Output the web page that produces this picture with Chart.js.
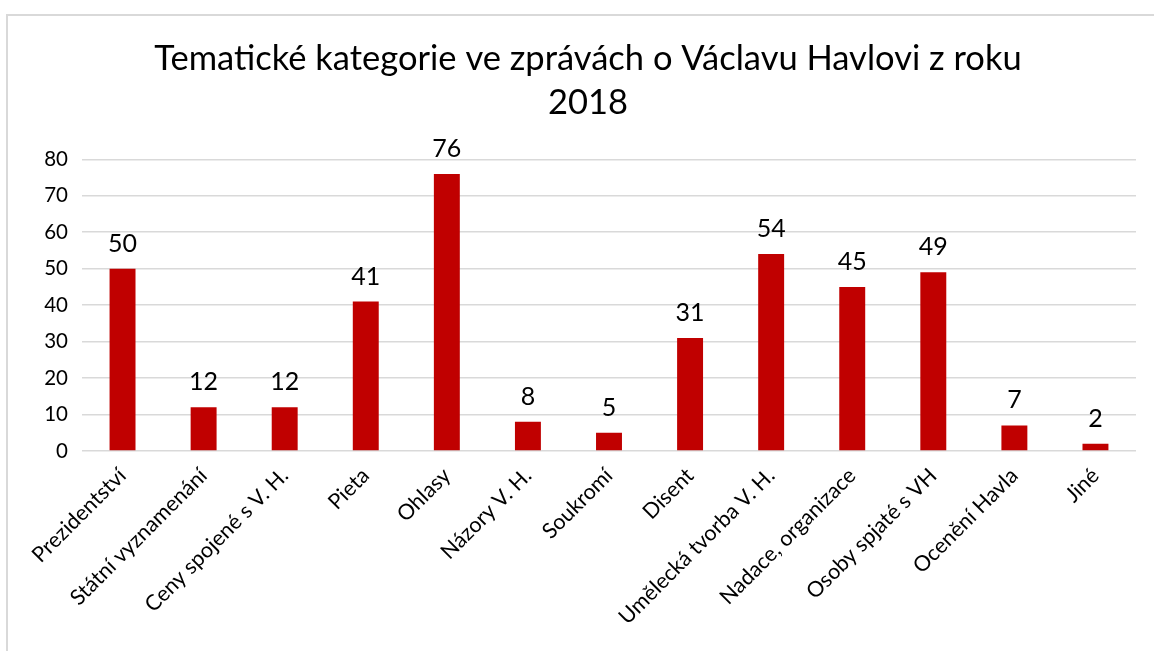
<!DOCTYPE html>
<html>
<head>
<meta charset="utf-8">
<script src="https://cdn.jsdelivr.net/npm/chart.js@4.4.1/dist/chart.umd.min.js"></script>
<style>
  html, body { margin: 0; padding: 0; background: #fff; overflow: hidden; width: 1154px; height: 651px; }
  #frame { position: absolute; left: 6px; top: 14px; width: 1164px; height: 660px; border: 2px solid #d9d9d9; }
  #chart { position: absolute; left: 8px; top: 16px; }
</style>
</head>
<body>
<div id="frame"></div>
<canvas id="chart" width="1160" height="635"></canvas>
<script>
const categories = ["Prezidentství", "Státní vyznamenání", "Ceny spojené s V. H.", "Pieta", "Ohlasy",
  "Názory V. H.", "Soukromí", "Disent", "Umělecká tvorba V. H.", "Nadace, organizace",
  "Osoby spjaté s VH", "Ocenění Havla", "Jiné"];
const counts = [50, 12, 12, 41, 76, 8, 5, 31, 54, 45, 49, 7, 2];
const titleLines = ["Tematické kategorie ve zprávách o Václavu Havlovi z roku", "2018"];

const FONT = "Lato, 'Open Sans', sans-serif";

const valueLabels = {
  id: "valueLabels",
  afterDatasetsDraw(chart) {
    const ctx = chart.ctx;
    const meta = chart.getDatasetMeta(0);
    ctx.save();
    ctx.font = "25px " + FONT;
    ctx.fillStyle = "#000";
    ctx.textAlign = "center";
    ctx.textBaseline = "alphabetic";
    meta.data.forEach((bar, i) => {
      ctx.fillText(String(counts[i]), bar.x, bar.y - 17);
    });
    ctx.restore();
  },
};

new Chart(document.getElementById("chart"), {
  type: "bar",
  data: {
    labels: categories,
    datasets: [
      {
        data: counts,
        backgroundColor: "#c00000",
        barPercentage: 1,
        categoryPercentage: 0.32,
      },
    ],
  },
  options: {
    responsive: false,
    animation: false,
    devicePixelRatio: 1,
    layout: { padding: 0 },
    plugins: {
      legend: { display: false },
      tooltip: { enabled: false },
      title: {
        display: true,
        text: titleLines,
        color: "#000",
        font: { family: FONT, size: 34.5, weight: "normal", lineHeight: 1.28 },
        padding: { top: 21, bottom: 34 },
      },
    },
    scales: {
      x: {
        grid: { display: false, drawTicks: false },
        border: { display: false },
        ticks: {
          color: "#000",
          font: { family: FONT, size: 21.5 },
          minRotation: 45,
          maxRotation: 45,
          padding: 12,
          autoSkip: false,
        },
        afterFit: (s) => { s.height = 200; },
      },
      y: {
        min: 0,
        max: 80,
        grid: { color: "#d9d9d9", lineWidth: 1.5, drawTicks: false },
        border: { display: false },
        ticks: {
          stepSize: 10,
          color: "#000",
          font: { family: FONT, size: 20.5 },
          padding: 14,
        },
        afterFit: (s) => { s.width = 74; },
      },
      // empty right-hand spacer so the title stays centred on the whole frame
      spacer: {
        type: "linear",
        position: "right",
        grid: { display: false, drawTicks: false },
        border: { display: false },
        ticks: { display: false },
        afterFit: (s) => { s.width = 32; },
      },
    },
  },
  plugins: [valueLabels],
});
</script>
</body>
</html>
